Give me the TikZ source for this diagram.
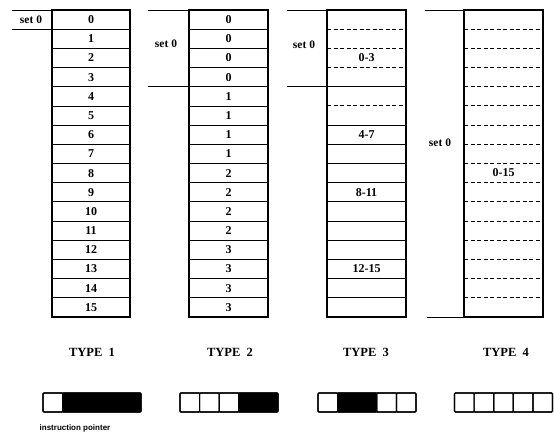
\documentclass[tikz,border=0pt]{standalone}
\usepackage{fontspec}
\setmainfont{Liberation Serif}
\newfontfamily\labsans{Liberation Sans}
\begin{document}
\begin{tikzpicture}[x=1pt,y=-1pt,
  colbox/.style={line width=1.2pt},
  rowline/.style={line width=0.8pt},
  dashrow/.style={line width=0.9pt, dash pattern=on 4pt off 2.5pt},
  num/.style={font=\bfseries\fontsize{12}{12}\selectfont, inner sep=0pt},
  setlab/.style={font=\bfseries\fontsize{11.5}{11.5}\selectfont, inner sep=0pt},
  typelab/.style={font=\bfseries\fontsize{12.5}{12.5}\selectfont, inner sep=0pt},
  iplab/.style={font=\labsans\bfseries\fontsize{8}{8}\selectfont, inner sep=0pt},
  barbox/.style={line width=1.2pt, rounded corners=1pt},
  barblack/.style={fill=black, draw=black, line width=1.2pt, rounded corners=1pt},
]
\useasboundingbox (0,0) rectangle (554,435);
\def\h{19.1875}
% ---------- TYPE 1 ----------
\foreach \k in {1,...,15} \draw[rowline] (52,{10+\h*\k}) -- (130,{10+\h*\k});
\draw[colbox] (52,10) rectangle (130,317);
\draw[rowline] (12,10) -- (52,10);
\draw[rowline] (12,{10+\h}) -- (52,{10+\h});
\node[setlab] (s1) at (31,20) {set 0};
\foreach \i in {0,...,15} \node[num] (ta\i) at (91,{10+\h*(\i+0.5)}) {\i};
% ---------- TYPE 2 ----------
\foreach \k in {1,...,15} \draw[rowline] (189,{10+\h*\k}) -- (268,{10+\h*\k});
\draw[colbox] (189,10) rectangle (268,317);
\draw[rowline] (148,10) -- (189,10);
\draw[rowline] (148,{10+4*\h}) -- (189,{10+4*\h});
\node[setlab] (s2) at (166,44) {set 0};
\foreach \i in {0,...,15} {
  \pgfmathtruncatemacro{\g}{int(\i/4)}
  \node[num] (tb\i) at (228.5,{10+\h*(\i+0.5)}) {\g};
}
% ---------- TYPE 3 ----------
\foreach \k in {1,2,3,5} \draw[dashrow] (327,{10+\h*\k}) -- (406,{10+\h*\k});
\foreach \k in {4,6,7,8,9,10,11,12,13,14,15} \draw[rowline] (327,{10+\h*\k}) -- (406,{10+\h*\k});
\draw[colbox] (327,10) rectangle (406,317);
\draw[rowline] (287,10) -- (327,10);
\draw[rowline] (287,{10+4*\h}) -- (327,{10+4*\h});
\node[setlab] (s3) at (304,45) {set 0};
\node[num] (tc0) at (366.5,{10+\h*2.5}) {0-3};
\node[num] (tc1) at (366.5,{10+\h*6.5}) {4-7};
\node[num] (tc2) at (366.5,{10+\h*9.5}) {8-11};
\node[num] (tc3) at (366.5,{10+\h*13.5}) {12-15};
% ---------- TYPE 4 ----------
\foreach \k in {1,...,15} \draw[dashrow] (464,{10+\h*\k}) -- (543,{10+\h*\k});
\draw[colbox] (464,10) rectangle (543,317);
\draw[rowline] (425,10) -- (464,10);
\draw[rowline] (427,317) -- (464,317);
\node[setlab, fill=white, inner sep=1pt] (s4) at (440,143) {set 0};
\node[num, fill=white, inner sep=1.5pt] (td0) at (503.5,{10+\h*8.45}) {0-15};
% ---------- type labels ----------
\node[typelab] (L1) at (92,352) {TYPE\,\,\,1};
\node[typelab] (L2) at (230,352) {TYPE\,\,\,2};
\node[typelab] (L3) at (366,352) {TYPE\,\,\,3};
\node[typelab] (L4) at (506,352) {TYPE\,\,\,4};
% ---------- pointer bars ----------
\def\u{19.6}
% type 1
\draw[barblack] (43+\u,393) rectangle (43+5*\u,412);
\draw[barbox] (43,393) rectangle (43+\u,412);
\draw[barbox] (43,393) rectangle (43+5*\u,412);
% type 2
\draw[barblack] (180+3*\u,393) rectangle (180+5*\u,412);
\foreach \j in {0,1,2} \draw[barbox] ({180+\j*\u},393) rectangle ({180+(\j+1)*\u},412);
\draw[barbox] (180,393) rectangle (180+5*\u,412);
% type 3
\draw[barblack] (318+\u,393) rectangle (318+3*\u,412);
\foreach \j in {0,3,4} \draw[barbox] ({318+\j*\u},393) rectangle ({318+(\j+1)*\u},412);
\draw[barbox] (318,393) rectangle (318+5*\u,412);
% type 4
\foreach \j in {0,...,4} \draw[barbox] ({454.5+\j*\u},393) rectangle ({454.5+(\j+1)*\u},412);
\draw[barbox] (454.5,393) rectangle (454.5+5*\u,412);
\node[iplab] (ip) at (75,428) {instruction pointer};
\end{tikzpicture}
\end{document}
